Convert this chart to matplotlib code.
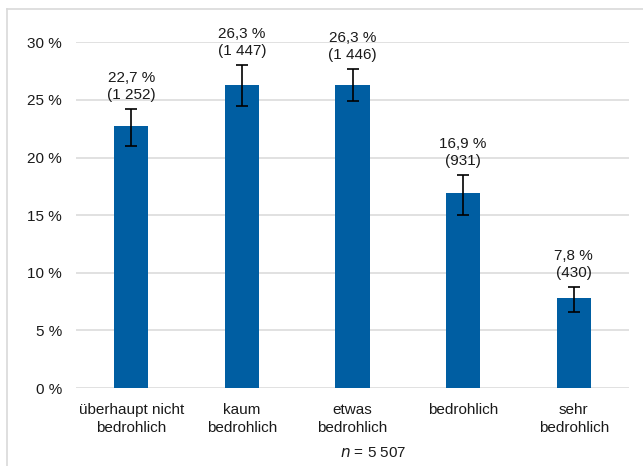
import matplotlib
matplotlib.use("Agg")
import matplotlib.pyplot as plt
from matplotlib.lines import Line2D
import numpy as np

plt.rcParams['font.family'] = ['Liberation Sans', 'DejaVu Sans']

categories = ["überhaupt nicht\nbedrohlich", "kaum\nbedrohlich", "etwas\nbedrohlich",
              "bedrohlich", "sehr\nbedrohlich"]
values = [22.7, 26.3, 26.3, 16.9, 7.8]
counts = ["1 252", "1 447", "1 446", "931", "430"]
err_low = [21.0, 24.5, 24.9, 15.05, 6.6]
err_high = [24.2, 28.0, 27.7, 18.5, 8.75]
yticks = [0, 5, 10, 15, 20, 25, 30]
n_text = "5 507"

W, H = 643, 466
fig = plt.figure(figsize=(W / 100, H / 100), dpi=100)
ax = fig.add_axes([76 / W, (H - 388) / H, (629 - 76) / W, (388 - 42.3) / H])

x = np.arange(len(categories))
bar_color = '#005EA2'
ax.bar(x, values, width=0.31, color=bar_color, zorder=2)
yerr = np.array([np.array(values) - np.array(err_low), np.array(err_high) - np.array(values)])
ax.errorbar(x, values, yerr=yerr, fmt='none', ecolor='black', elinewidth=1.2,
            capsize=4.3, capthick=1.2, zorder=3)

for xi, v, c, hi in zip(x, values, counts, err_high):
    lbl = f"{v:.1f}".replace('.', ',') + " %\n(" + c + ")"
    ax.annotate(lbl, (xi, hi), xytext=(0, 5), textcoords='offset points',
                ha='center', va='bottom', fontsize=11, color='#1a1a1a', linespacing=1.3)

ax.set_xlim(-0.5, len(categories) - 0.5)
ax.set_ylim(0, 30)
ax.set_yticks(yticks)
ax.set_yticklabels([f"{t} %" for t in yticks])
ax.set_xticks(x)
ax.set_xticklabels(categories, linespacing=1.3)
ax.tick_params(axis='both', length=0, labelsize=11, colors='#1a1a1a')
ax.tick_params(axis='y', pad=10)
ax.tick_params(axis='x', pad=11)
for s in ax.spines.values():
    s.set_visible(False)
ax.grid(axis='y', color='#D9D9D9', linewidth=1.1, zorder=0)
ax.set_axisbelow(True)

fig.text(373 / W, 1 - 453 / H, r"$\it{n}$ = " + n_text, ha='center', va='center',
         fontsize=11, color='#1a1a1a')

# outer chart border (partially cut off)
fig.add_artist(Line2D([6.5 / W, 6.5 / W], [0, 1 - 9 / H], color='#D9D9D9', linewidth=1.2,
                      transform=fig.transFigure))
fig.add_artist(Line2D([6.5 / W, 1], [1 - 9 / H, 1 - 9 / H], color='#D9D9D9', linewidth=1.2,
                      transform=fig.transFigure))

fig.savefig("out.png", dpi=100)
